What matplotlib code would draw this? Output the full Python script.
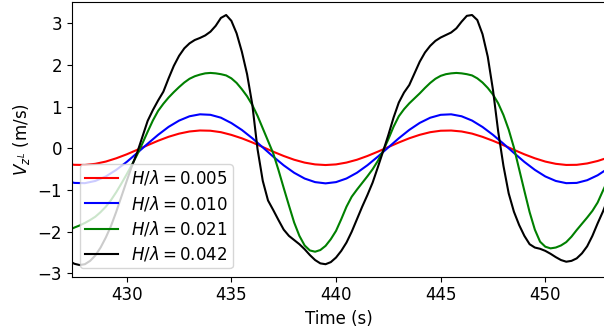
import matplotlib
matplotlib.use('Agg')
import matplotlib.pyplot as plt

# time grids (s)
t_coarse = [427.0 + 0.5 * i for i in range(53)]
t_fine = [427.0 + 0.25 * i for i in range(105)]

labels = [r'$H/\lambda = 0.005$', r'$H/\lambda = 0.010$',
          r'$H/\lambda = 0.021$', r'$H/\lambda = 0.042$']
colors = ['red', 'blue', 'green', 'black']

# H/lambda = 0.005 (0.5 s steps)
v_005 = [-0.36, -0.395, -0.398, -0.371, -0.317, -0.238, -0.143, -0.035, 0.076, 0.183,
         0.278, 0.353, 0.405, 0.429, 0.423, 0.388, 0.323, 0.241, 0.142, 0.032,
         -0.080, -0.183, -0.273, -0.342, -0.385, -0.40, -0.385, -0.341, -0.273, -0.183,
         -0.079, 0.032, 0.141, 0.242, 0.325, 0.388, 0.423, 0.428, 0.405, 0.354,
         0.276, 0.182, 0.076, -0.035, -0.143, -0.238, -0.317, -0.371, -0.398, -0.395,
         -0.362, -0.303, -0.221]

# H/lambda = 0.010 (0.5 s steps)
v_010 = [-0.764, -0.829, -0.835, -0.782, -0.674, -0.516, -0.325, -0.110, 0.112, 0.325,
         0.516, 0.666, 0.770, 0.817, 0.805, 0.736, 0.607, 0.442, 0.243, 0.023,
         -0.199, -0.407, -0.586, -0.724, -0.810, -0.84, -0.810, -0.723, -0.585, -0.405,
         -0.198, 0.023, 0.242, 0.443, 0.611, 0.735, 0.805, 0.817, 0.770, 0.667,
         0.513, 0.324, 0.112, -0.110, -0.325, -0.516, -0.674, -0.782, -0.835, -0.829,
         -0.764, -0.646, -0.482]

# H/lambda = 0.021 (0.25 s steps)
v_021 = [-2.02, -1.96, -1.90, -1.85, -1.79, -1.72, -1.64, -1.53, -1.40, -1.24,
         -1.05, -0.84, -0.62, -0.39, -0.15, 0.12, 0.40, 0.67, 0.90, 1.07,
         1.22, 1.35, 1.47, 1.58, 1.67, 1.73, 1.77, 1.80, 1.81, 1.80,
         1.78, 1.75, 1.68, 1.57, 1.42, 1.25, 1.04, 0.78, 0.48, 0.18,
         -0.12, -0.52, -0.95, -1.37, -1.78, -2.10, -2.33, -2.45, -2.48, -2.44,
         -2.34, -2.18, -1.98, -1.70, -1.40, -1.16, -0.99, -0.83, -0.67, -0.50,
         -0.30, -0.06, 0.22, 0.52, 0.77, 0.94, 1.08, 1.20, 1.32, 1.45,
         1.57, 1.67, 1.74, 1.78, 1.80, 1.81, 1.80, 1.78, 1.75, 1.68,
         1.58, 1.45, 1.29, 1.08, 0.80, 0.45, 0.02, -0.50, -1.02, -1.53,
         -1.95, -2.24, -2.36, -2.40, -2.38, -2.33, -2.25, -2.12, -1.96, -1.81,
         -1.66, -1.50, -1.30, -1.02, -0.75]

# H/lambda = 0.042 (0.25 s steps)
v_042 = [-2.65, -2.70, -2.77, -2.80, -2.78, -2.70, -2.57, -2.38, -2.14, -1.86,
         -1.52, -1.15, -0.78, -0.42, -0.10, 0.28, 0.66, 0.92, 1.15, 1.36,
         1.68, 1.98, 2.22, 2.40, 2.52, 2.60, 2.65, 2.71, 2.80, 2.94,
         3.13, 3.20, 3.06, 2.76, 2.32, 1.78, 1.05, -0.02, -0.78, -1.25,
         -1.48, -1.72, -1.95, -2.10, -2.20, -2.30, -2.42, -2.56, -2.68, -2.76,
         -2.78, -2.73, -2.62, -2.46, -2.26, -2.00, -1.70, -1.40, -1.12, -0.82,
         -0.45, -0.07, 0.32, 0.74, 1.10, 1.34, 1.52, 1.80, 2.08, 2.30,
         2.46, 2.58, 2.66, 2.72, 2.78, 2.88, 3.04, 3.18, 3.20, 3.08,
         2.74, 2.20, 1.40, 0.40, -0.42, -1.08, -1.52, -1.84, -2.10, -2.30,
         -2.38, -2.41, -2.46, -2.53, -2.61, -2.68, -2.72, -2.70, -2.64, -2.52,
         -2.35, -2.10, -1.80, -1.52, -1.20]

series = [(t_coarse, v_005), (t_coarse, v_010), (t_fine, v_021), (t_fine, v_042)]

fig = plt.figure(figsize=(6.04, 3.35), dpi=100)
ax = fig.add_axes([0.1187, 0.174, 0.886, 0.821])

for (t, v), lab, col in zip(series, labels, colors):
    ax.plot(t, v, color=col, lw=1.5, label=lab)

ax.set_xlim(427.37, 452.94)
ax.set_ylim(-3.08, 3.52)
ax.set_xticks([430, 435, 440, 445, 450])
ax.set_yticks([-3, -2, -1, 0, 1, 2, 3])
ax.tick_params(labelsize=12)
ax.set_xlabel('Time (s)', fontsize=12)
ax.set_ylabel(r'$V_{z^L}$ (m/s)', fontsize=12)
ax.legend(loc='lower left', fontsize=12, labelspacing=0.38, borderpad=0.27)

fig.savefig('out.png', dpi=100)
